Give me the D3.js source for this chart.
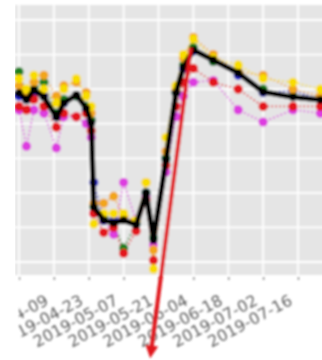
<!DOCTYPE html>
<html>
<head>
<meta charset="utf-8">
<script src="https://cdn.jsdelivr.net/npm/d3@7"></script>
<style>
  body { margin: 0; background: #fff; }
  svg { display: block; }
</style>
</head>
<body>
<div id="my_dataviz"></div>
<script>
// sample dates and the values of each series
const dates = ["2019-03-26","2019-03-29","2019-04-01","2019-04-05","2019-04-10","2019-04-13",
  "2019-04-18","2019-04-22","2019-04-24","2019-04-25","2019-04-29","2019-05-03","2019-05-07",
  "2019-05-12","2019-05-16","2019-05-19","2019-05-24","2019-05-28","2019-05-31","2019-06-04",
  "2019-06-12","2019-06-22","2019-07-02","2019-07-14","2019-07-25","2019-07-29"];

const meanValues    = [58.9,56.9,59.8,57.7,51.9,56.0,58.3,54.5,50.2,25.9,22.1,21.3,22.1,20.7,30.0,16.4,39.5,58.9,66.4,71.3,68.4,64.7,59.2,57.7,56.9,56.5];
const yellowValues  = [63,60,64,60,56,60,63,58,55,21,24,24,24,22,33,8,46,61,70,74.5,69,67,63,62,60,60];
const orangeValues  = [61,58,62,64,58,61,62,59,53,27,27,29,23,22,33,13.5,42,60,69,75,70,65,64,60,58,58];
const redValues     = [55,54,57,55,49,53,52,53,48,24,18.5,20,12.5,19,28,10.5,38,55,62,66,62,60,55,55,55,55];
const magentaValues = [54,43.5,54,53,43,52,52,50,46,24,22,18,33,22,29,15,36,52,58,62,62.5,54,50.5,54,53,53];
const blueValues    = [58,57,59,58,52,56,58,54,51,33,22,22,23,21,30,17,40,59,66,71,68,64,59,59.5,57,57];
const greenValues   = [65,58,60,62,53,57,58,55,51,26,23,21,14,21,30,17,40,59,67,72,68,65,60,58,57,57];

// x tick labels (every two weeks) and y grid values
const tickLabels = ["2019-03-26","2019-04-09","2019-04-23","2019-05-07","2019-05-21",
  "2019-06-04","2019-06-18","2019-07-02","2019-07-16"];
const yGrid = [10, 20, 30, 40, 50, 60, 70, 80];

// annotation arrow: from the peak down past the axis
const arrowFrom = {date: "2019-06-03", value: 72};
const arrowTo = {date: "2019-05-18"};

const colored = [
  {values: magentaValues, color: "#dd3ee0"},
  {values: blueValues,    color: "#2222c8"},
  {values: greenValues,   color: "#1f7f1f"},
  {values: redValues,     color: "#e3161c"},
  {values: orangeValues,  color: "#f2a51c"},
  {values: yellowValues,  color: "#f8dc00"}
];

const W = 322, H = 360;
const panel = {left: 15, top: 5, right: 340, bottom: 275};

const parse = d3.timeParse("%Y-%m-%d");

const svg = d3.select("#my_dataviz")
  .append("svg")
  .attr("width", W)
  .attr("height", H);

// soft blur, the reference is a blurry screenshot
const defs = svg.append("defs");
defs.append("filter").attr("id", "soft")
  .attr("x", "-5%").attr("y", "-5%").attr("width", "110%").attr("height", "110%")
  .append("feGaussianBlur").attr("stdDeviation", 1.1);
defs.append("clipPath").attr("id", "cut")
  .append("rect").attr("x", panel.left).attr("y", 0).attr("width", W).attr("height", H);
defs.append("clipPath").attr("id", "cutText")
  .append("rect").attr("x", 19).attr("y", 0).attr("width", W).attr("height", H);
defs.append("marker").attr("id", "head")
  .attr("viewBox", "0 0 10 10").attr("refX", 5).attr("refY", 5)
  .attr("markerWidth", 3.2).attr("markerHeight", 3.2).attr("orient", "auto")
  .attr("markerUnits", "strokeWidth")
  .append("path").attr("d", "M0,0 L10,5 L0,10 z").attr("fill", "#e0161b");

const root = svg.append("g")
  .attr("filter", "url(#soft)")
  .attr("clip-path", "url(#cut)");

// scales
const x = d3.scaleTime()
  .domain([parse(tickLabels[0]), parse(tickLabels[tickLabels.length - 1])])
  .range([19, 298]);
const y = d3.scaleLinear()
  .domain([6.24, 84.34])
  .range([panel.bottom, panel.top]);

// grey panel with white grid
root.append("rect")
  .attr("x", panel.left).attr("y", panel.top)
  .attr("width", panel.right - panel.left).attr("height", panel.bottom - panel.top)
  .attr("fill", "#e5e5e5");

root.append("g")
  .selectAll("line")
  .data(yGrid)
  .join("line")
    .attr("x1", panel.left).attr("x2", panel.right)
    .attr("y1", d => y(d)).attr("y2", d => y(d))
    .attr("stroke", "#fff")
    .attr("stroke-width", 1.8);

root.append("g")
  .selectAll("line")
  .data(tickLabels)
  .join("line")
    .attr("x1", d => x(parse(d))).attr("x2", d => x(parse(d)))
    .attr("y1", panel.top).attr("y2", panel.bottom)
    .attr("stroke", "#fff")
    .attr("stroke-width", 1.8);

// x axis
const xAxis = root.append("g")
  .attr("clip-path", "url(#cutText)")
  .attr("transform", `translate(0, ${panel.bottom + 2})`)
  .call(d3.axisBottom(x)
    .tickValues(tickLabels.map(parse))
    .tickFormat(d3.timeFormat("%Y-%m-%d"))
    .tickSize(3)
    .tickPadding(6));
xAxis.select(".domain").remove();
xAxis.selectAll(".tick line").attr("stroke", "#888").attr("stroke-width", 1.4);
xAxis.selectAll(".tick text")
  .attr("font-family", "DejaVu Sans, sans-serif")
  .attr("font-size", 16)
  .attr("fill", "#5e5e5e")
  .attr("text-anchor", "end")
  .attr("dy", 0)
  .attr("transform", "translate(-5, 27) rotate(-28)")
  .attr("y", 0);

// colored series: dotted lines and dots
const line = d3.line()
  .x((d, i) => x(parse(dates[i])))
  .y(d => y(d));

colored.forEach(s => {
  root.append("path")
    .datum(s.values)
    .attr("d", line)
    .attr("fill", "none")
    .attr("stroke", s.color)
    .attr("stroke-width", 1.8)
    .attr("stroke-dasharray", "1.5,2.5");
});
colored.forEach(s => {
  root.append("g")
    .selectAll("circle")
    .data(s.values)
    .join("circle")
      .attr("cx", (d, i) => x(parse(dates[i])))
      .attr("cy", d => y(d))
      .attr("r", 4.6)
      .attr("fill", s.color);
});

// thick black mean line on top
root.append("path")
  .datum(meanValues)
  .attr("d", line)
  .attr("fill", "none")
  .attr("stroke", "#000")
  .attr("stroke-width", 5.5)
  .attr("stroke-linejoin", "round");
root.append("g")
  .selectAll("circle")
  .data(meanValues)
  .join("circle")
    .attr("cx", (d, i) => x(parse(dates[i])))
    .attr("cy", d => y(d))
    .attr("r", 4)
    .attr("fill", "#000");

// red arrow
root.append("line")
  .attr("x1", x(parse(arrowFrom.date)))
  .attr("y1", y(arrowFrom.value))
  .attr("x2", x(parse(arrowTo.date)))
  .attr("y2", H - 8)
  .attr("stroke", "#e0161b")
  .attr("stroke-width", 4)
  .attr("marker-end", "url(#head)");
</script>
</body>
</html>
